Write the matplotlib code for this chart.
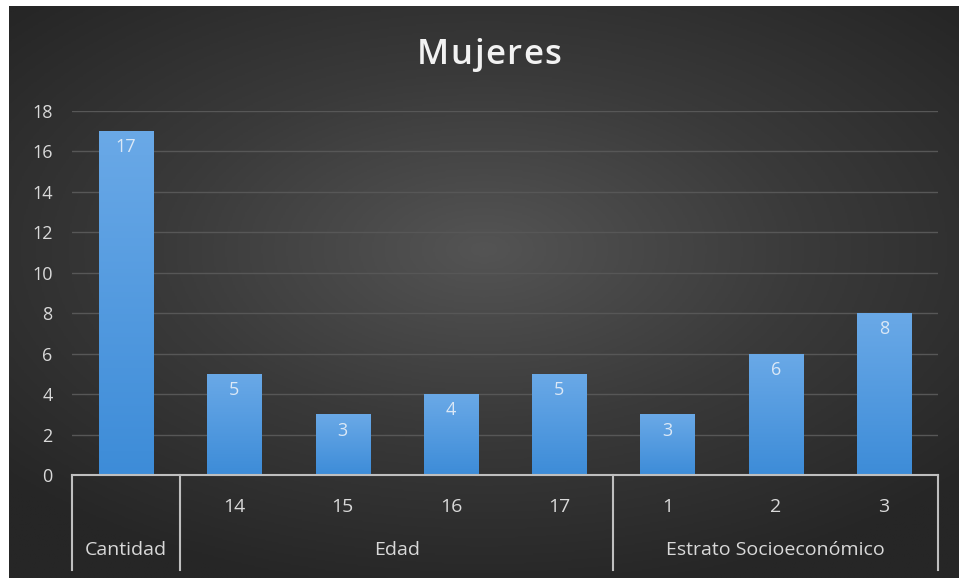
import numpy as np
import matplotlib
matplotlib.use("Agg")
import matplotlib.pyplot as plt
from matplotlib.colors import LinearSegmentedColormap
from matplotlib.transforms import blended_transform_factory

# data
categories = ["Cantidad", "14", "15", "16", "17", "1", "2", "3"]
values = [17, 5, 3, 4, 5, 3, 6, 8]
groups = ["Cantidad", "Edad", "Estrato Socioeconómico"]
group_sizes = [1, 4, 3]
yticks = [0, 2, 4, 6, 8, 10, 12, 14, 16, 18]
title = "Mujeres"

plt.rcParams['font.family'] = ['Open Sans', 'DejaVu Sans']

W, H = 959, 578
fig = plt.figure(figsize=(W / 100, H / 100), dpi=100)
fig.patch.set_facecolor("white")

# dark radial background (white strip on top and left like the screenshot)
bg = fig.add_axes([9 / W, 0, (W - 9) / W, (H - 6) / H])
gx, gy = np.meshgrid(np.linspace(-1, 1, 600), np.linspace(-1, 1, 400))
r = np.sqrt((gx * 1.0) ** 2 + ((gy + 0.15) * 1.1) ** 2)
r = np.clip(r / 1.35, 0, 1)
bg_cmap = LinearSegmentedColormap.from_list("bg", ["#545454", "#3a3a3a", "#262626"])
bg.imshow(r, cmap=bg_cmap, aspect="auto", extent=[0, 1, 0, 1], vmin=0, vmax=1)
bg.set_axis_off()

ax = fig.add_axes([72 / W, (H - 475) / H, 866 / W, 364 / H])
ax.set_facecolor("none")
x = np.arange(len(categories))
ax.set_xlim(-0.5, len(categories) - 0.5)
ax.set_ylim(0, 18)

bar_cmap = LinearSegmentedColormap.from_list("bar", ["#3d8cd8", "#6aa9e7"])
grad = np.linspace(0, 1, 256).reshape(-1, 1)
bars = ax.bar(x, values, width=0.5, color="#5b9bd5", zorder=3,
              edgecolor="#1f3f66", linewidth=0.6)
for b in bars:
    bx, by = b.get_x(), b.get_y()
    im = ax.imshow(grad, cmap=bar_cmap, aspect="auto", origin="lower",
                   extent=[bx, bx + b.get_width(), by, by + b.get_height()],
                   zorder=3.5)
    im.set_clip_path(b)
    ax.text(bx + b.get_width() / 2, b.get_height() - 0.8, str(int(b.get_height())),
            ha="center", va="center", color="#dbe8f6", fontsize=13, zorder=5)

ax.set_yticks(yticks)
ax.set_yticklabels([str(t) for t in yticks], color="#d9d9d9", fontsize=13)
ax.tick_params(axis="y", length=0, pad=14)
ax.tick_params(axis="x", length=0)
ax.set_xticks([])
ax.grid(axis="y", color="#575757", linewidth=1.0, zorder=0)
ax.set_axisbelow(True)
for s in ["top", "right", "left"]:
    ax.spines[s].set_visible(False)
ax.spines["bottom"].set_color("#bfbfbf")
ax.spines["bottom"].set_linewidth(1.5)
ax.spines["bottom"].set_zorder(6)

# multi-level category axis
tr = blended_transform_factory(ax.transData, ax.transAxes)
start = 0
bounds = [-0.5]
for g, n in zip(groups, group_sizes):
    members = list(range(start, start + n))
    if n > 1:
        for i in members:
            ax.text(i, -32 / 364, categories[i], transform=tr, ha="center",
                    va="center", color="#d9d9d9", fontsize=14)
    center = (members[0] + members[-1]) / 2
    ax.text(center, -75 / 364, g, transform=tr, ha="center", va="center",
            color="#d9d9d9", fontsize=14)
    start += n
    bounds.append(start - 0.5)
for b in bounds:
    ax.plot([b, b], [0, -95 / 364], transform=tr, color="#bfbfbf",
            linewidth=1.5, clip_on=False, zorder=6)

# title with a little letter spacing
renderer = fig.canvas.get_renderer()
spacing = 1.5
chars = []
total = 0
for c in title:
    t = fig.text(0, 1 - 55 / H, c, ha="left", va="center", color="#f2f2f2",
                 fontsize=25, fontweight="semibold")
    w = t.get_window_extent(renderer).width
    chars.append((t, w))
    total += w
total += spacing * (len(title) - 1)
xpos = 489 - total / 2
for t, w in chars:
    t.set_x(xpos / W)
    xpos += w + spacing

fig.savefig("out.png", dpi=100, facecolor=fig.get_facecolor())
